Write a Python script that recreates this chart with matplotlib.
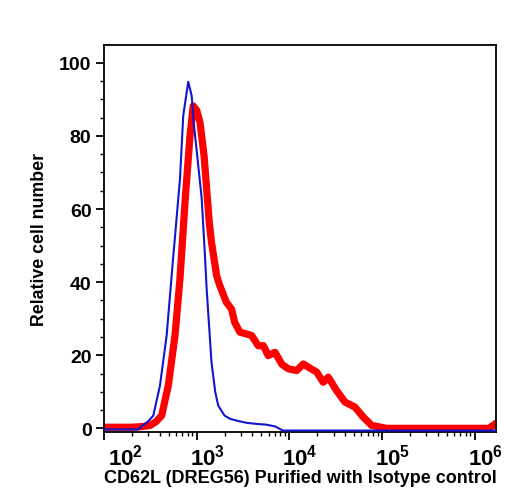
import numpy as np
import matplotlib
matplotlib.use("Agg")
import matplotlib.pyplot as plt
from matplotlib.ticker import FixedLocator, NullFormatter
from matplotlib.transforms import ScaledTranslation

# ---- data (log10 of fluorescence intensity, relative cell number) ----
red_logx = [2.0, 2.3, 2.42, 2.496, 2.56, 2.622, 2.694, 2.766, 2.82, 2.874, 2.928, 2.963,
            3.0, 3.036, 3.08, 3.108, 3.136, 3.16, 3.216, 3.25, 3.32, 3.377, 3.41, 3.467,
            3.54, 3.593, 3.665, 3.72, 3.772, 3.845, 3.92, 3.988, 4.079, 4.15, 4.22, 4.295,
            4.366, 4.42, 4.51, 4.60, 4.708, 4.797, 4.888, 5.05, 5.5, 6.0, 6.15, 6.2, 6.23]
red_y = [0.3, 0.3, 0.5, 0.8, 1.8, 3.5, 11.7, 25.4, 41.0, 61.8, 80.0, 88.2,
         87.0, 83.7, 74.5, 65.4, 56.3, 50.9, 41.7, 39.0, 34.5, 32.6, 29.0, 26.3,
         25.8, 25.4, 22.6, 22.6, 19.9, 20.8, 17.5, 16.3, 15.8, 17.6, 16.5, 15.4,
         12.6, 14.0, 10.3, 7.2, 5.8, 3.1, 0.8, 0.0, 0.0, 0.0, 0.0, 0.8, 1.4]

blue_logx = [2.0, 2.37, 2.42, 2.48, 2.532, 2.604, 2.676, 2.748, 2.82, 2.855, 2.909, 2.946,
             2.97, 3.0, 3.054, 3.09, 3.108, 3.16, 3.2, 3.233, 3.3, 3.36, 3.45, 3.54, 3.65,
             3.755, 3.85, 3.93, 6.23]
blue_y = [-0.3, -0.3, 0.8, 2.0, 3.5, 11.7, 25.4, 47.2, 68.2, 85.5, 94.8, 91.0,
          83.0, 76.0, 63.0, 47.0, 38.0, 18.1, 10.0, 6.2, 3.5, 2.6, 2.0, 1.5, 1.2,
          1.0, 0.5, -0.6, -0.6]

x_tick_exps = [2, 3, 4, 5, 6]
y_ticks = [0, 20, 40, 60, 80, 100]
xlabel = "CD62L (DREG56) Purified with Isotype control"
ylabel = "Relative cell number"

plt.rcParams['font.family'] = ['Liberation Sans', 'DejaVu Sans']
plt.rcParams['font.weight'] = 'bold'
plt.rcParams['mathtext.fontset'] = 'custom'
plt.rcParams['mathtext.rm'] = 'Liberation Sans:bold'
plt.rcParams['mathtext.it'] = 'Liberation Sans:bold'
plt.rcParams['mathtext.bf'] = 'Liberation Sans:bold'

W, H = 516, 502
fig = plt.figure(figsize=(W / 100, H / 100), dpi=100)
L, R, T, B = 104, 496, 45.5, 433
ax = fig.add_axes([L / W, 1 - B / H, (R - L) / W, (B - T) / H])

ax.plot(10 ** np.array(red_logx), red_y, color='#ff0000', lw=5.2, solid_joinstyle='round',
        solid_capstyle='round', zorder=2)
ax.plot(10 ** np.array(blue_logx), blue_y, color='#1414cc', lw=1.5, zorder=3)

ax.set_xscale('log')
ax.set_xlim(10 ** 2, 10 ** 6.23)
ax.set_ylim(-1, 105)

ax.set_xticks([10 ** e for e in x_tick_exps])
ax.set_xticklabels([r'$\mathregular{10^{%d}}$' % e for e in x_tick_exps])
minors = [m * 10 ** e for e in range(2, 7) for m in range(2, 10) if m * 10 ** e < 10 ** 6.23]
ax.xaxis.set_minor_locator(FixedLocator(minors))
ax.xaxis.set_minor_formatter(NullFormatter())

ax.set_yticks(y_ticks)
ax.yaxis.set_minor_locator(FixedLocator([v for v in range(0, 105, 5) if v % 20]))

ax.tick_params(axis='both', which='major', direction='out', length=6, width=1.3,
               labelsize=14, color='black')
ax.tick_params(axis='both', which='minor', direction='out', length=3, width=1.0)
ax.tick_params(axis='x', which='major', pad=2)
ax.tick_params(axis='y', which='major', pad=3)

for i, lab in enumerate(ax.get_xticklabels()):
    lab.set_horizontalalignment('left')
    dx = 4 / 100 if i == 0 else -7 / 100
    lab.set_transform(lab.get_transform() + ScaledTranslation(dx, 0, fig.dpi_scale_trans))
    lab.set_fontsize(16)

for sp in ax.spines.values():
    sp.set_linewidth(1.3)

ax.set_xlabel(xlabel, fontsize=13, fontweight='bold', labelpad=3)
ax.set_ylabel(ylabel, fontsize=12.8, fontweight='bold', labelpad=8)
ax.xaxis.set_label_coords(0.5, -0.095)

fig.savefig('out.png', dpi=100)
